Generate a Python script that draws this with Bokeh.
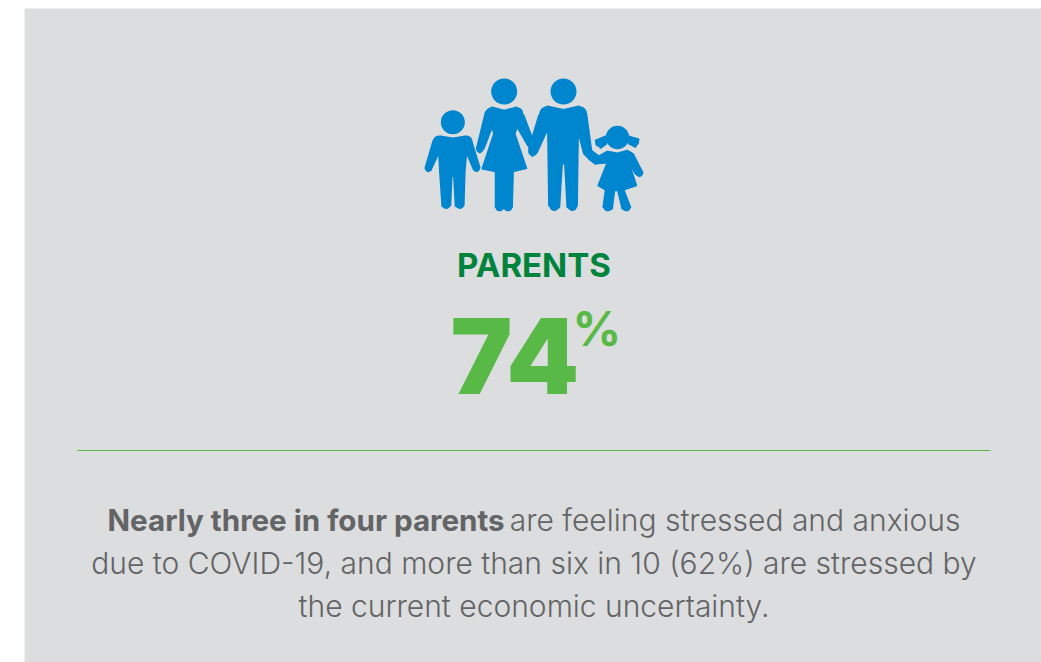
from bokeh.plotting import figure
from bokeh.models import Range1d
from bokeh.core.properties import value
from bokeh.embed import file_html
from bokeh.resources import INLINE

PCT = "74"
HEAD = "PARENTS"
BOLD = "Nearly three in four parents"
L1 = "are feeling stressed and anxious"
L2 = "due to COVID-19, and more than six in 10 (62%) are stressed by"
L3 = "the current economic uncertainty."

BG, BLUE, DG, G, GR = "#dcddde", "#0085cf", "#00843d", "#58b947", "#636466"

p = figure(width=1041, height=662, output_backend="svg", toolbar_location=None,
           x_range=Range1d(0, 1041), y_range=Range1d(662, 0), min_border=0,
           background_fill_color="white", border_fill_color="white")
p.axis.visible = False
p.grid.visible = False
p.outline_line_color = None

p.quad(left=[24], right=[1041], top=[8], bottom=[662], fill_color=BG, line_color=None)

# pictogram outlines, traced in 3x crop coordinates
def X(a): return [410 + v / 3 for v in a]
def Y(a): return [65 + v / 3 for v in a]
shapes = [
 [(90,212),(127,218),(165,212),(183,226),(208,306),(198,318),(189,312),(168,262),(163,320),(160,420),(148,428),(135,422),(130,332),(124,332),(120,420),(108,428),(95,422),(88,320),(85,262),(62,312),(52,318),(44,308),(68,226)],
 [(245,125),(281,135),(318,125),(340,150),(368,225),(362,245),(352,240),(320,185),(313,205),(348,308),(308,318),(305,425),(292,435),(280,428),(268,435),(255,425),(255,318),(215,310),(250,205),(245,185),(220,250),(208,262),(198,250),(225,140)],
 [(410,122),(459,133),(505,122),(528,145),(543,255),(575,290),(555,295),(535,280),(520,265),(503,200),(500,420),(485,435),(470,425),(463,295),(455,295),(447,425),(432,435),(415,420),(412,190),(380,260),(365,272),(355,250),(385,150)],
 [(590,258),(621,263),(650,255),(668,265),(697,322),(687,333),(675,325),(655,290),(678,360),(640,373),(660,425),(650,435),(635,430),(622,375),(612,375),(605,430),(590,435),(578,425),(585,373),(563,360),(590,292),(555,295),(535,280),(543,255),(565,272)],
 [(555,225),(585,212),(588,235),(570,248)],
 [(655,212),(685,222),(675,245),(655,235)],
]
p.patches([X([q[0] for q in s]) for s in shapes], [Y([q[1] for q in s]) for s in shapes],
          fill_color=BLUE, line_color=BLUE, line_width=1.5, line_join="round")
heads = [(127,170,36),(281,78,39),(459,78,39),(621,216,35),
         (54,309,10),(198,309,10),(107,418,12),(148,418,12),(85,228,18),(168,228,18),
         (208,252,10),(362,238,10),(267,425,12),(293,425,12),(243,143,18),(320,143,18),
         (367,258,14),(431,422,14),(486,422,14),(410,146,24),(507,144,22),
         (592,425,12),(648,425,12),(687,323,10),(600,270,12),(655,270,12),(566,232,12),(674,228,12)]
p.scatter(X([h[0] for h in heads]), Y([h[1] for h in heads]),
          size=[h[2] * 2 / 3 for h in heads], marker="circle", fill_color=BLUE, line_color=None)

def T(x, y, s, size, color, align="center", style="normal", font="Inter"):
    # the svg text sits about 0.385 em below the asked baseline
    p.text([x], [y - 0.385 * size], text=[s], text_font=value(font), text_font_size=f"{size}px",
           text_color=color, text_align=align, text_baseline="alphabetic",
           text_font_style=style)

T(533.5, 277, HEAD, 33, DG, style="bold")
T(450, 396, PCT, 104, G, align="left", font="Inter Black")
T(572, 346, "%", 48, G, align="left", style="bold")
p.segment([77], [450], [990], [450], line_color=G, line_width=1)
T(107, 531, BOLD, 29.6, GR, align="left", style="bold")
T(960, 531, L1, 30, GR, align="right", font="Inter Light")
T(533.5, 574, L2, 30, GR, font="Inter Light")
T(533.5, 617, L3, 30, GR, font="Inter Light")

open("out.html", "w").write(file_html(p, INLINE))
